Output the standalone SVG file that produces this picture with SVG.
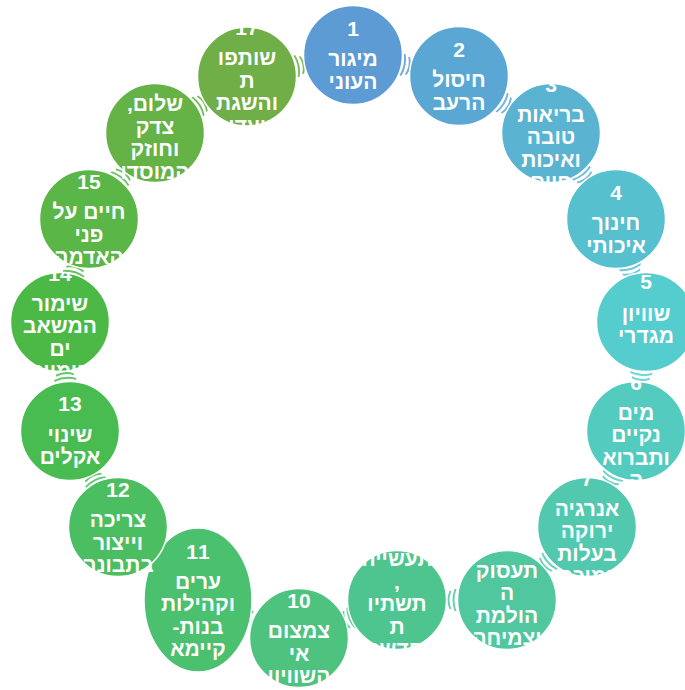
<svg xmlns="http://www.w3.org/2000/svg" xmlns:xlink="http://www.w3.org/1999/xlink" width="685" height="690" viewBox="0 0 685 690">
<style>
.n{stroke:#fff;stroke-width:1.5}
.t{font-family:"Liberation Sans","DejaVu Sans",Arial,sans-serif;font-weight:bold;font-size:21px;fill:#fff;text-anchor:middle;direction:rtl}
.num{direction:ltr}
.a{stroke:none;opacity:0.85}
</style>
<defs>
<path id="arr" d="M-4.5,-11 Q-0.5,0 -4.5,11 L-2.5,11 Q1.5,0 -2.5,-11 Z M0.5,-9 Q4.5,0 0.5,9 L2.5,9 Q6.5,0 2.5,-9 Z"/>
<clipPath id="k1"><rect x="303" y="5.5" width="100" height="99"/></clipPath>
<clipPath id="k2"><rect x="409" y="26.5" width="100" height="99"/></clipPath>
<clipPath id="k3"><rect x="501" y="83.5" width="100" height="99"/></clipPath>
<clipPath id="k4"><rect x="566" y="169.5" width="100" height="99"/></clipPath>
<clipPath id="k5"><rect x="596" y="272.5" width="100" height="99"/></clipPath>
<clipPath id="k6"><rect x="586" y="381.5" width="100" height="99"/></clipPath>
<clipPath id="k7"><rect x="537" y="477.5" width="100" height="99"/></clipPath>
<clipPath id="k8"><rect x="457" y="550.5" width="100" height="99"/></clipPath>
<clipPath id="k9"><rect x="347" y="550.5" width="100" height="99"/></clipPath>
<clipPath id="k10"><rect x="249" y="588.5" width="100" height="99"/></clipPath>
<clipPath id="k11"><rect x="144" y="528" width="108" height="144"/></clipPath>
<clipPath id="k12"><rect x="68" y="477.5" width="100" height="99"/></clipPath>
<clipPath id="k13"><rect x="20" y="381.5" width="100" height="99"/></clipPath>
<clipPath id="k14"><rect x="10" y="272.5" width="100" height="99"/></clipPath>
<clipPath id="k15"><rect x="39" y="169.5" width="100" height="99"/></clipPath>
<clipPath id="k16"><rect x="105" y="83.5" width="100" height="99"/></clipPath>
<clipPath id="k17"><rect x="197" y="27" width="100" height="99"/></clipPath>
</defs>
<rect width="685" height="690" fill="#fff"/>
<g id="connectors">
<use xlink:href="#arr" class="a" fill="hsl(209,59%,60%)" transform="translate(406,65.5) rotate(11.2)"/>
<use xlink:href="#arr" class="a" fill="hsl(201.9,57.9%,59.25%)" transform="translate(505,104.5) rotate(31.8)"/>
<use xlink:href="#arr" class="a" fill="hsl(194.9,56.9%,58.5%)" transform="translate(583.5,176) rotate(52.9)"/>
<use xlink:href="#arr" class="a" fill="hsl(187.8,55.8%,57.75%)" transform="translate(631,270.5) rotate(73.8)"/>
<use xlink:href="#arr" class="a" fill="hsl(180.75,54.75%,57%)" transform="translate(641,376.5) rotate(95.2)"/>
<use xlink:href="#arr" class="a" fill="hsl(173.7,53.7%,56.25%)" transform="translate(611.5,479) rotate(117)"/>
<use xlink:href="#arr" class="a" fill="hsl(166.6,52.6%,55.5%)" transform="translate(547,563.5) rotate(137.6)"/>
<use xlink:href="#arr" class="a" fill="hsl(159.6,51.6%,54.75%)" transform="translate(452,600) rotate(180)"/>
<use xlink:href="#arr" class="a" fill="hsl(152.5,50.5%,54%)" transform="translate(348,619) rotate(158.8)"/>
<use xlink:href="#arr" class="a" fill="hsl(145.4,49.4%,53.25%)" transform="translate(251.3,620) rotate(-159.4)"/>
<use xlink:href="#arr" class="a" fill="hsl(138.4,48.4%,52.5%)" transform="translate(154,560) rotate(-137.6)"/>
<use xlink:href="#arr" class="a" fill="hsl(131.3,47.3%,51.75%)" transform="translate(94,479) rotate(-116.6)"/>
<use xlink:href="#arr" class="a" fill="hsl(124.25,46.25%,51%)" transform="translate(65,376.5) rotate(-95.2)"/>
<use xlink:href="#arr" class="a" fill="hsl(117.2,45.2%,50.25%)" transform="translate(74.5,270.5) rotate(-74.3)"/>
<use xlink:href="#arr" class="a" fill="hsl(110.1,44.1%,49.5%)" transform="translate(122,176) rotate(-52.5)"/>
<use xlink:href="#arr" class="a" fill="hsl(103.1,43.1%,48.75%)" transform="translate(201,104.5) rotate(-31.8)"/>
<use xlink:href="#arr" class="a" fill="hsl(96,42%,48%)" transform="translate(300,65.5) rotate(-11.2)"/>
</g>
<g id="node1"><circle class="n" cx="353" cy="55" r="49.5" fill="hsl(209,59%,60%)"/>
<text class="t" clip-path="url(#k1)"><tspan class="num" x="353" y="36.25">1</tspan><tspan x="353" y="66.25">מיגור</tspan><tspan x="353" y="88.75">העוני</tspan></text></g>
<g id="node2"><circle class="n" cx="459" cy="76" r="49.5" fill="hsl(201.9,57.9%,59.25%)"/>
<text class="t" clip-path="url(#k2)"><tspan class="num" x="459" y="57.25">2</tspan><tspan x="459" y="87.25">חיסול</tspan><tspan x="459" y="109.75">הרעב</tspan></text></g>
<g id="node3"><circle class="n" cx="551" cy="133" r="49.5" fill="hsl(194.9,56.9%,58.5%)"/>
<text class="t" clip-path="url(#k3)"><tspan class="num" x="551" y="91.75">3</tspan><tspan x="551" y="121.75">בריאות</tspan><tspan x="551" y="144.25">טובה</tspan><tspan x="551" y="166.75">ואיכות</tspan><tspan x="551" y="189.25">חיים</tspan></text></g>
<g id="node4"><circle class="n" cx="616" cy="219" r="49.5" fill="hsl(187.8,55.8%,57.75%)"/>
<text class="t" clip-path="url(#k4)"><tspan class="num" x="616" y="200.25">4</tspan><tspan x="616" y="230.25">חינוך</tspan><tspan x="616" y="252.75">איכותי</tspan></text></g>
<g id="node5"><circle class="n" cx="646" cy="322" r="49.5" fill="hsl(180.75,54.75%,57%)"/>
<text class="t" clip-path="url(#k5)"><tspan class="num" x="646" y="289">5</tspan><tspan x="646" y="320.5">שוויון</tspan><tspan x="646" y="343">מגדרי</tspan></text></g>
<g id="node6"><circle class="n" cx="636" cy="431" r="49.5" fill="hsl(173.7,53.7%,56.25%)"/>
<text class="t" clip-path="url(#k6)"><tspan class="num" x="636" y="389.75">6</tspan><tspan x="636" y="419.75">מים</tspan><tspan x="636" y="442.25">נקיים</tspan><tspan x="636" y="464.75">ותברוא</tspan><tspan x="636" y="487.25">ה</tspan></text></g>
<g id="node7"><circle class="n" cx="587" cy="527" r="49.5" fill="hsl(166.6,52.6%,55.5%)"/>
<text class="t" clip-path="url(#k7)"><tspan class="num" x="587" y="485.75">7</tspan><tspan x="587" y="515.75">אנרגיה</tspan><tspan x="587" y="538.25">ירוקה</tspan><tspan x="587" y="560.75">בעלות</tspan><tspan x="587" y="583.25">נמוכה</tspan></text></g>
<g id="node8"><circle class="n" cx="507" cy="600" r="49.5" fill="hsl(159.6,51.6%,54.75%)"/>
<text class="t" clip-path="url(#k8)"><tspan class="num" x="507" y="547.5">8</tspan><tspan x="507" y="577.5">תעסוק</tspan><tspan x="507" y="600">ה</tspan><tspan x="507" y="622.5">הולמת</tspan><tspan x="507" y="645">וצמיחה</tspan><tspan x="507" y="667.5">כלכלית</tspan></text></g>
<g id="node9"><circle class="n" cx="397" cy="600" r="49.5" fill="hsl(152.5,50.5%,54%)"/>
<text class="t" clip-path="url(#k9)"><tspan class="num" x="397" y="536.25">9</tspan><tspan x="397" y="566.25">תעשייה</tspan><tspan x="397" y="588.75">,</tspan><tspan x="397" y="611.25">תשתיו</tspan><tspan x="397" y="633.75">ת</tspan><tspan x="397" y="656.25">וחדשנו</tspan><tspan x="397" y="678.75">ת</tspan></text></g>
<g id="node10"><circle class="n" cx="299" cy="638" r="49.5" fill="hsl(145.4,49.4%,53.25%)"/>
<text class="t" clip-path="url(#k10)"><tspan class="num" x="299" y="608">10</tspan><tspan x="299" y="638">צמצום</tspan><tspan x="299" y="660.5">אי</tspan><tspan x="299" y="683">השוויון</tspan></text></g>
<g id="node11"><ellipse class="n" cx="198" cy="600" rx="54" ry="72" fill="hsl(138.4,48.4%,52.5%)"/>
<text class="t" clip-path="url(#k11)"><tspan class="num" x="198" y="558.75">11</tspan><tspan x="198" y="588.75">ערים</tspan><tspan x="198" y="611.25">וקהילות</tspan><tspan x="198" y="633.75">בנות-</tspan><tspan x="198" y="656.25">קיימא</tspan></text></g>
<g id="node12"><circle class="n" cx="118" cy="527" r="49.5" fill="hsl(131.3,47.3%,51.75%)"/>
<text class="t" clip-path="url(#k12)"><tspan class="num" x="118" y="497">12</tspan><tspan x="118" y="527">צריכה</tspan><tspan x="118" y="549.5">וייצור</tspan><tspan x="118" y="572">בתבונה</tspan></text></g>
<g id="node13"><circle class="n" cx="70" cy="431" r="49.5" fill="hsl(124.25,46.25%,51%)"/>
<text class="t" clip-path="url(#k13)"><tspan class="num" x="70" y="411">13</tspan><tspan x="70" y="441.5">שינוי</tspan><tspan x="70" y="464">אקלים</tspan></text></g>
<g id="node14"><circle class="n" cx="60" cy="322" r="49.5" fill="hsl(117.2,45.2%,50.25%)"/>
<text class="t" clip-path="url(#k14)"><tspan class="num" x="60" y="280.75">14</tspan><tspan x="60" y="310.75">שימור</tspan><tspan x="60" y="333.25">המשאב</tspan><tspan x="60" y="355.75">ים</tspan><tspan x="60" y="378.25">הימיים</tspan></text></g>
<g id="node15"><circle class="n" cx="89" cy="219" r="49.5" fill="hsl(110.1,44.1%,49.5%)"/>
<text class="t" clip-path="url(#k15)"><tspan class="num" x="89" y="189">15</tspan><tspan x="89" y="219">חיים על</tspan><tspan x="89" y="241.5">פני</tspan><tspan x="89" y="264">האדמה</tspan></text></g>
<g id="node16"><circle class="n" cx="155" cy="133" r="49.5" fill="hsl(103.1,43.1%,48.75%)"/>
<text class="t" clip-path="url(#k16)"><tspan class="num" x="155" y="81">16</tspan><tspan x="155" y="111">שלום,</tspan><tspan x="155" y="133.5">צדק</tspan><tspan x="155" y="156">וחוזק</tspan><tspan x="155" y="178.5">המוסדו</tspan><tspan x="155" y="201">ת</tspan></text></g>
<g id="node17"><circle class="n" cx="247" cy="76.5" r="49.5" fill="hsl(96,42%,48%)"/>
<text class="t" clip-path="url(#k17)"><tspan class="num" x="247" y="35.25">17</tspan><tspan x="247" y="65.25">שותפו</tspan><tspan x="247" y="87.75">ת</tspan><tspan x="247" y="110.25">והשגת</tspan><tspan x="247" y="132.75">היעדים</tspan></text></g>
</svg>
